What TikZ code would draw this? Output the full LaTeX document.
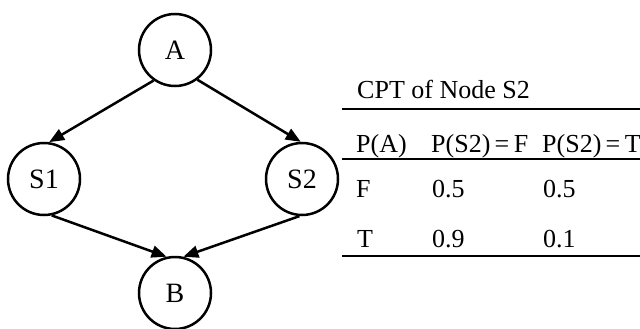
\documentclass[tikz,border=0pt]{standalone}
\usepackage{fontspec}
\setmainfont{Liberation Serif}
\usetikzlibrary{arrows.meta}
\tikzset{
  bnode/.style={circle,draw,line width=2.5pt,minimum size=72pt,inner sep=0pt,font=\fontsize{28}{30}\selectfont},
  edge/.style={line width=2.5pt,-{Triangle[length=15pt,width=12pt]}},
  cell/.style={anchor=base west,inner sep=0pt,font=\fontsize{26}{28}\selectfont},
  rule/.style={line width=2pt}
}
\begin{document}
\begin{tikzpicture}[x=1pt,y=-1pt]
\useasboundingbox (0,0) rectangle (640,329);
\node[bnode] (A) at (175,50) {A};
\node[bnode] (S1) at (44,179) {S1};
\node[bnode] (S2) at (302,179) {S2};
\node[bnode] (B) at (175,293) {B};
\draw[edge] (A.235) -- (S1.82);
\draw[edge] (A.307) -- (S2.92);
\draw[edge] (S1.282) -- (B.103);
\draw[edge] (S2.266) -- (B.77);
% table
\coordinate (l1a) at (342,109); \coordinate (l1b) at (640,109);
\coordinate (l2a) at (342,159); \coordinate (l2b) at (640,159);
\coordinate (l3a) at (342,256); \coordinate (l3b) at (640,256);
\draw[rule] (l1a) -- (l1b);
\draw[rule] (l2a) -- (l2b);
\draw[rule] (l3a) -- (l3b);
\node[cell] (title) at (357,99) {CPT of Node S2};
\node[cell] (h1) at (356,152) {P(A)};
\node[cell] (h2) at (431,152) {P(S2)\,=\,F};
\node[cell] (h3) at (542,152) {P(S2)\,=\,T};
\node[cell] (f1) at (356,197) {F};
\node[cell] (f2) at (432,197) {0.5};
\node[cell] (f3) at (543,197) {0.5};
\node[cell] (t1) at (357,247) {T};
\node[cell] (t2) at (432,247) {0.9};
\node[cell] (t3) at (543,247) {0.1};
\end{tikzpicture}
\end{document}
